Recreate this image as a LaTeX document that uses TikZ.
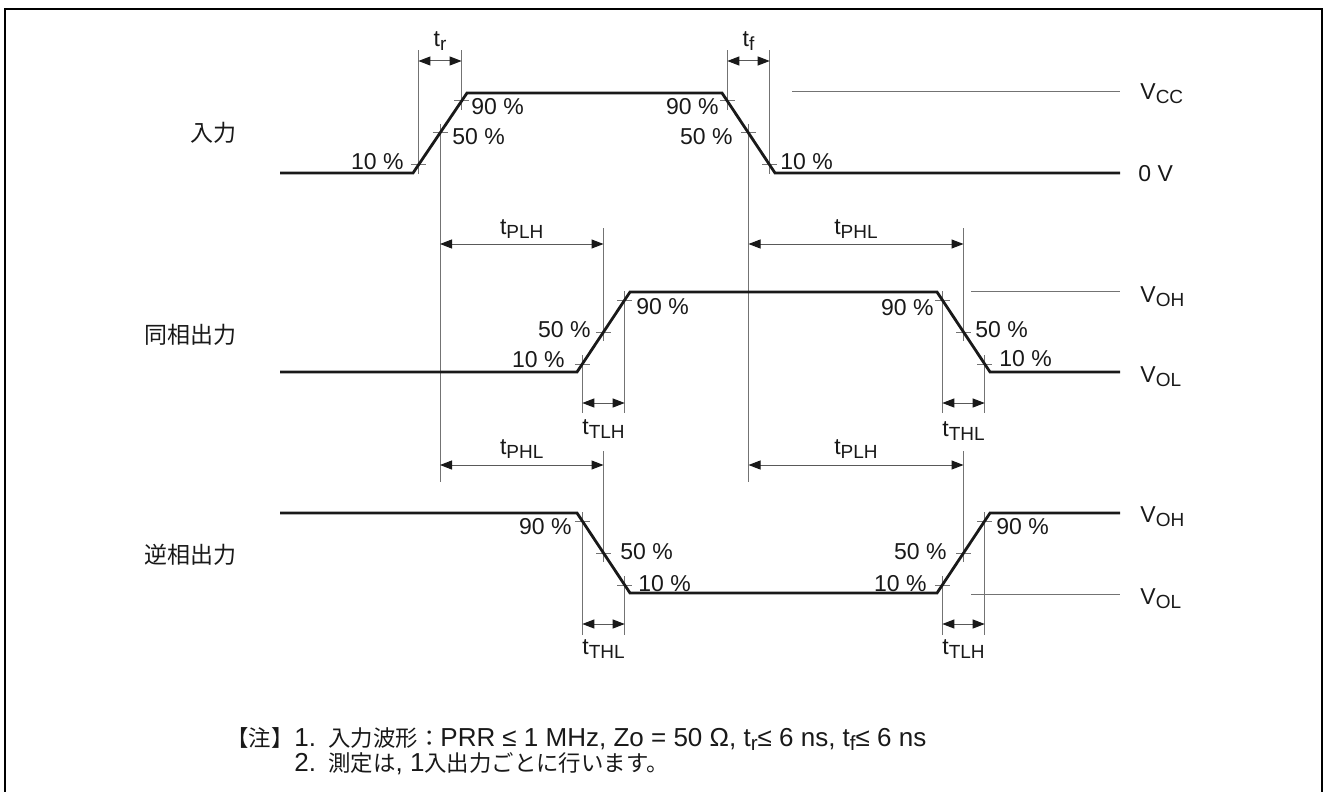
\documentclass[tikz,border=0pt]{standalone}
\usepackage{fontspec}
\setmainfont{Liberation Sans}
\newfontfamily\jp{Noto Sans CJK JP}
\usetikzlibrary{arrows.meta}
\newcommand\lsub[1]{\raisebox{-0.35ex}{\fontsize{9.5}{10}\selectfont #1}}
\newcommand\nsub[1]{\raisebox{-0.35ex}{\fontsize{10.3}{10}\selectfont #1}}
\newcommand\jn{\jp\fontsize{11.2}{14}\selectfont}
\begin{document}
\begin{tikzpicture}[x=0.5pt,y=-0.5pt,
  wave/.style={line width=1.4pt,black!90,line join=miter},
  thinl/.style={line width=0.5pt,black!55},
  dim/.style={line width=0.5pt,black!65,{Triangle[length=6pt,width=4.5pt,color=black!90]}-{Triangle[length=6pt,width=4.5pt,color=black!90]}},
  pct/.style={font=\fontsize{11.5}{13}\selectfont,inner sep=0pt,text=black!90},
  lbl/.style={font=\jp\fontsize{11.5}{13}\selectfont,inner sep=0pt,text=black!90},
  note/.style={font=\fontsize{13}{14}\selectfont,inner sep=0pt,anchor=base west,text=black!90},
  tickmark/.pic={\draw[thinl] (-7.5,0)--(7.5,0) (0,-9)--(0,9);}]
\useasboundingbox (0,0) rectangle (1325,791);
\draw[line width=1.25pt] (5,805) -- (5,9) -- (1322,9) -- (1322,805);

% helper levels
\coordinate (yTop) at (0,50);
\coordinate (yArrTR) at (0,61);
\coordinate (y125) at (0,125);
\coordinate (y482) at (0,482);
\coordinate (y228) at (0,228);
\coordinate (y340) at (0,340);
\coordinate (y244) at (0,244);
\coordinate (y413) at (0,413);
\coordinate (y403) at (0,403);
\coordinate (y451) at (0,451);
\coordinate (y561) at (0,561);
\coordinate (y465) at (0,465);
\coordinate (y635) at (0,635);
\coordinate (y624) at (0,624);

% ---------------- input ----------------
\coordinate (i0) at (280,173);
\coordinate (i1) at (413,173);
\coordinate (i2) at (467,93);
\coordinate (i3) at (722,93);
\coordinate (i4) at (775,173);
\coordinate (i5) at (1120,173);
\coordinate (ir10) at (418.4,165);
\coordinate (ir50) at (440,133);
\coordinate (ir90) at (461.6,101);
\coordinate (if90) at (727.3,101);
\coordinate (if50) at (748.5,133);
\coordinate (if10) at (769.7,165);

\draw[thinl] (ir10) -- (ir10 |- yTop);
\draw[thinl] (ir90) -- (ir90 |- yTop);
\draw[thinl] (if90) -- (if90 |- yTop);
\draw[thinl] (if10) -- (if10 |- yTop);
\draw[thinl] (ir50 |- y125) -- (ir50 |- y482);
\draw[thinl] (if50 |- y125) -- (if50 |- y482);
\foreach \p in {ir10,ir50,ir90,if90,if50,if10} \pic at (\p) {tickmark};
\draw[wave] (i0)--(i1)--(i2)--(i3)--(i4)--(i5);

\draw[dim] (ir10 |- yArrTR) -- (ir90 |- yArrTR);
\draw[dim] (if90 |- yArrTR) -- (if10 |- yArrTR);
\node[pct] (ltr) at (440,41) {t\lsub{r}};
\node[pct] (ltf) at (748.5,41) {t\lsub{f}};

\coordinate (vcc0) at (792,92);
\coordinate (vcc1) at (1120,92);
\draw[thinl] (vcc0) -- (vcc1);
\node[pct,anchor=west] (lvcc) at (1140,94) {V\lsub{CC}};
\node[pct,anchor=west] (l0v) at (1138,174) {0 V};

\node[pct,anchor=east] (p1) at (404,162) {10 \%};
\node[pct,anchor=west] (p2) at (452,137) {50 \%};
\node[pct,anchor=west] (p3) at (471,107) {90 \%};
\node[pct,anchor=east] (p4) at (719,107) {90 \%};
\node[pct,anchor=east] (p5) at (733,137) {50 \%};
\node[pct,anchor=west] (p6) at (780,162) {10 \%};
\node[lbl,anchor=east] (lin) at (237,133) {入力};

% ---------------- in-phase output ----------------
\coordinate (a0) at (280,372);
\coordinate (a1) at (577,372);
\coordinate (a2) at (630,292);
\coordinate (a3) at (937,292);
\coordinate (a4) at (990,372);
\coordinate (a5) at (1120,372);
\coordinate (ar10) at (582.3,364);
\coordinate (ar50) at (603.5,332);
\coordinate (ar90) at (624.7,300);
\coordinate (af90) at (942.3,300);
\coordinate (af50) at (963.5,332);
\coordinate (af10) at (984.7,364);

\draw[thinl] (ar50 |- y228) -- (ar50 |- y340);
\draw[thinl] (af50 |- y228) -- (af50 |- y340);
\draw[thinl] (ar10) -- (ar10 |- y413);
\draw[thinl] (ar90) -- (ar90 |- y413);
\draw[thinl] (af90) -- (af90 |- y413);
\draw[thinl] (af10) -- (af10 |- y413);
\foreach \p in {ar10,ar50,ar90,af90,af50,af10} \pic at (\p) {tickmark};
\draw[wave] (a0)--(a1)--(a2)--(a3)--(a4)--(a5);

\draw[dim] (ir50 |- y244) -- (ar50 |- y244);
\draw[dim] (if50 |- y244) -- (af50 |- y244);
\node[pct] (lplh1) at (521.75,229) {t\lsub{PLH}};
\node[pct] (lphl1) at (856,229) {t\lsub{PHL}};
\draw[dim] (ar10 |- y403) -- (ar90 |- y403);
\draw[dim] (af90 |- y403) -- (af10 |- y403);
\node[pct] (ltlh1) at (603.5,429) {t\lsub{TLH}};
\node[pct] (lthl1) at (963.5,431) {t\lsub{THL}};

\coordinate (voh0) at (971,291);
\coordinate (voh1) at (1120,291);
\draw[thinl] (voh0) -- (voh1);
\node[pct,anchor=west] (lvoh1) at (1140,297) {V\lsub{OH}};
\node[pct,anchor=west] (lvol1) at (1140,377) {V\lsub{OL}};

\node[pct,anchor=east] (q1) at (591,330) {50 \%};
\node[pct,anchor=east] (q2) at (565,360) {10 \%};
\node[pct,anchor=west] (q3) at (636,307) {90 \%};
\node[pct,anchor=east] (q4) at (934,308) {90 \%};
\node[pct,anchor=west] (q5) at (975,330) {50 \%};
\node[pct,anchor=west] (q6) at (999,359) {10 \%};
\node[lbl,anchor=east] (lout) at (237,335) {同相出力};

% ---------------- inverted output ----------------
\coordinate (b0) at (280,513);
\coordinate (b1) at (577,513);
\coordinate (b2) at (630,593);
\coordinate (b3) at (937,593);
\coordinate (b4) at (990,513);
\coordinate (b5) at (1120,513);
\coordinate (bf90) at (582.3,521);
\coordinate (bf50) at (603.5,553);
\coordinate (bf10) at (624.7,585);
\coordinate (br10) at (942.3,585);
\coordinate (br50) at (963.5,553);
\coordinate (br90) at (984.7,521);

\draw[thinl] (bf50 |- y451) -- (bf50 |- y561);
\draw[thinl] (br50 |- y451) -- (br50 |- y561);
\draw[thinl] (bf90) -- (bf90 |- y635);
\draw[thinl] (bf10) -- (bf10 |- y635);
\draw[thinl] (br10) -- (br10 |- y635);
\draw[thinl] (br90) -- (br90 |- y635);
\foreach \p in {bf90,bf50,bf10,br10,br50,br90} \pic at (\p) {tickmark};
\draw[wave] (b0)--(b1)--(b2)--(b3)--(b4)--(b5);

\draw[dim] (ir50 |- y465) -- (bf50 |- y465);
\draw[dim] (if50 |- y465) -- (br50 |- y465);
\node[pct] (lphl2) at (521.75,449) {t\lsub{PHL}};
\node[pct] (lplh2) at (856,449) {t\lsub{PLH}};
\draw[dim] (bf90 |- y624) -- (bf10 |- y624);
\draw[dim] (br10 |- y624) -- (br90 |- y624);
\node[pct] (lthl2) at (603.5,649) {t\lsub{THL}};
\node[pct] (ltlh2) at (963.5,649) {t\lsub{TLH}};

\coordinate (vol0) at (971,594);
\coordinate (vol1) at (1120,594);
\draw[thinl] (vol0) -- (vol1);
\node[pct,anchor=west] (lvoh2) at (1140,517) {V\lsub{OH}};
\node[pct,anchor=west] (lvol2) at (1140,599) {V\lsub{OL}};

\node[pct,anchor=east] (r1) at (572,527) {90 \%};
\node[pct,anchor=west] (r2) at (620,552) {50 \%};
\node[pct,anchor=west] (r3) at (638,584) {10 \%};
\node[pct,anchor=east] (r4) at (927,584) {10 \%};
\node[pct,anchor=east] (r5) at (947,552) {50 \%};
\node[pct,anchor=west] (r6) at (996,527) {90 \%};
\node[lbl,anchor=east] (linv) at (237,555) {逆相出力};

% ---------------- notes ----------------
\node[note] (n0) at (226,746) {{\jn 【注】}};
\node[note] (n1) at (294,746) {1.};
\node[note] (n1t) at (328,746) {{\jn 入力波形：}PRR ≤ 1 MHz, Zo = 50 Ω, t\nsub{r}≤ 6 ns, t\nsub{f}≤ 6 ns};
\node[note] (n2) at (294,771) {2.};
\node[note] (n2t) at (328,771) {{\jn 測定は}, 1{\jn 入出力ごとに行います。}};
\end{tikzpicture}
\end{document}
